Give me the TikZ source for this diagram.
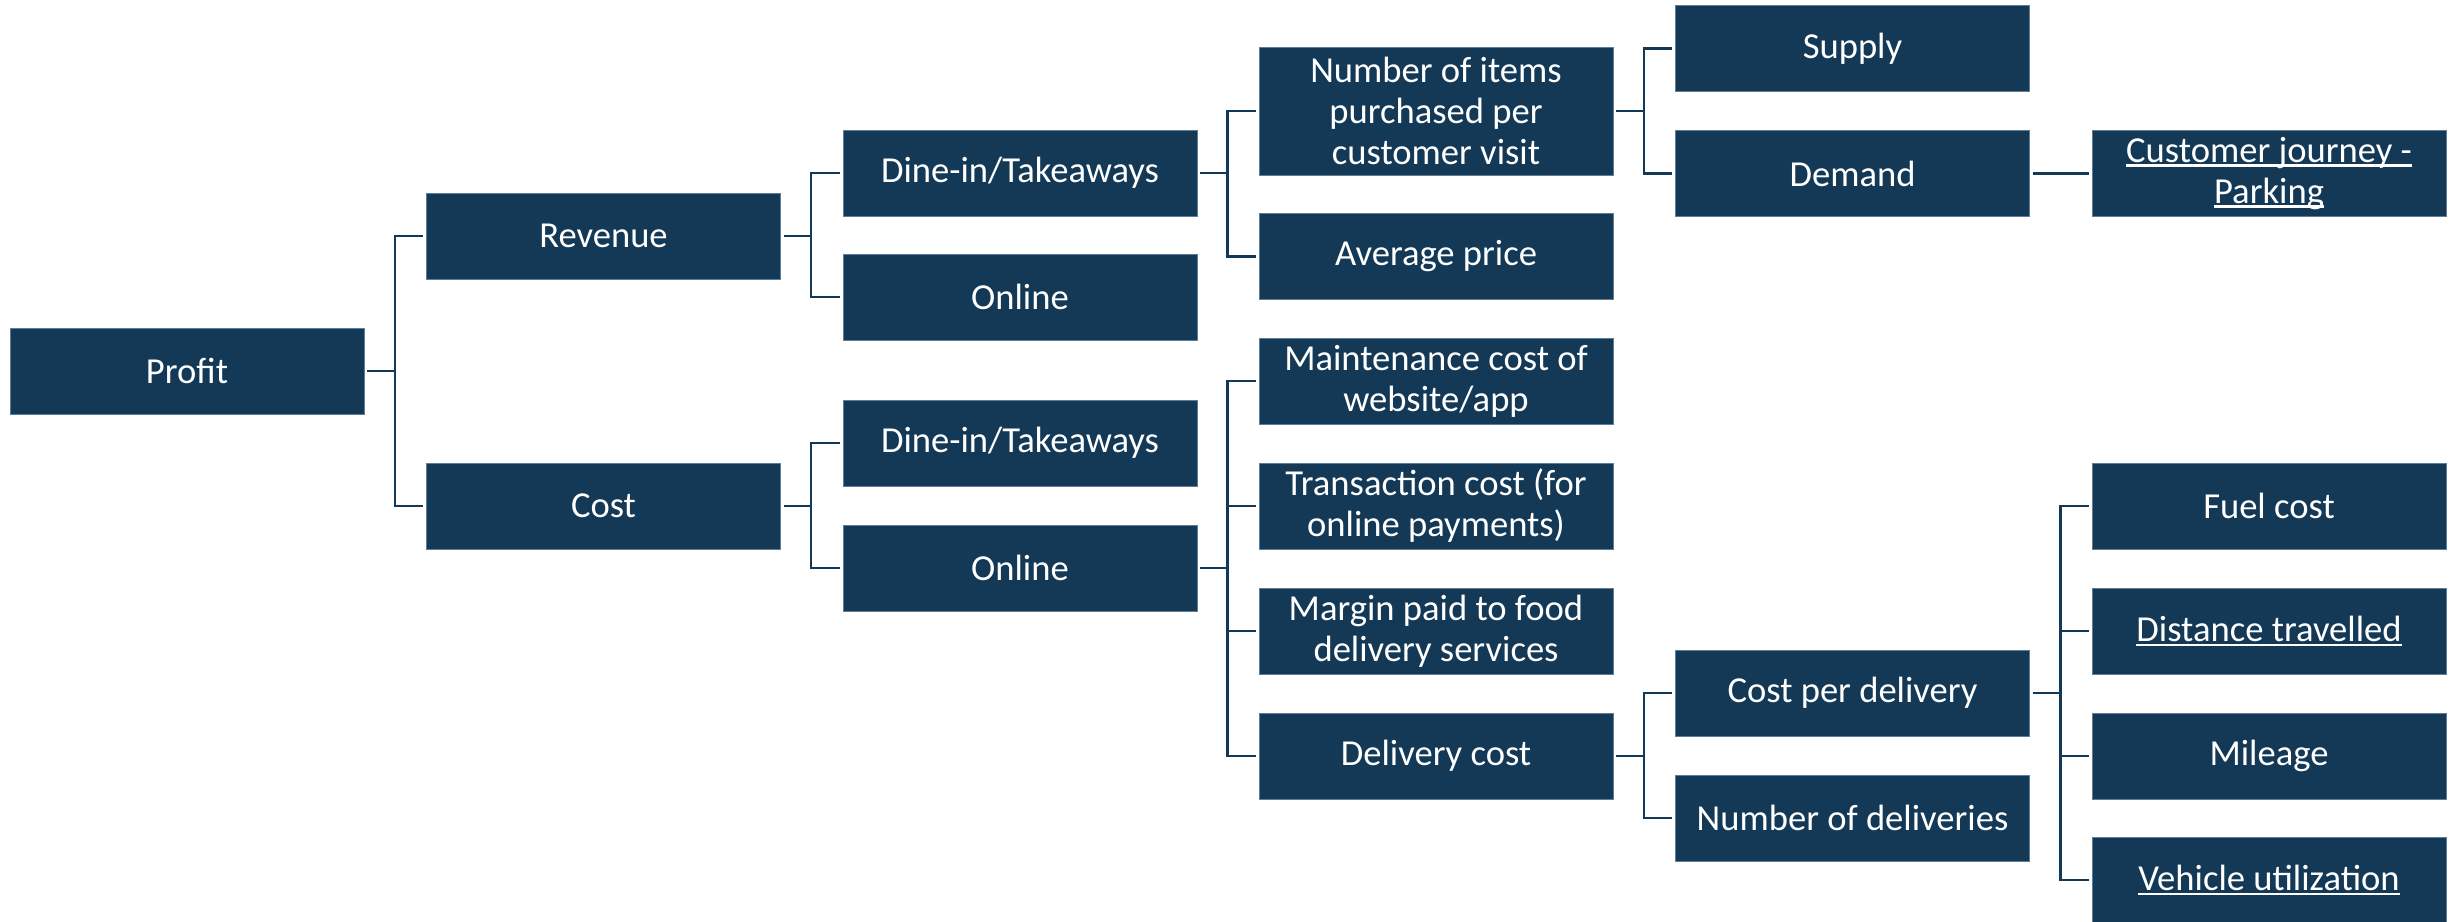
\documentclass[tikz,border=0pt]{standalone}
\usepackage{fontspec}
\setmainfont{Carlito}
\definecolor{navy}{RGB}{19,57,86}
\definecolor{edgeblue}{RGB}{95,125,150}
\newcommand\myul[1]{\setbox0=\hbox{#1}\rlap{\rule[-0.12em]{\wd0}{0.065em}}\box0}
\tikzset{
  box/.style={fill=navy, draw=edgeblue, line width=0.4pt, text=white, minimum width=177pt,
    minimum height=43pt, inner sep=0pt, align=center, font=\fontsize{18.3}{20.5}\selectfont},
  tallbox/.style={box, minimum height=64pt},
  conn/.style={draw=navy, line width=1.1pt, shorten <=1.5pt, shorten >=1.5pt}
}
\begin{document}
\begin{tikzpicture}[x=0.5pt,y=-0.5pt]
\useasboundingbox (0,0) rectangle (2455,921);
\clip (0,0) rectangle (2455,921);
% column 1
\node[box] (profit) at (187,371) {Profit};
% column 2
\node[box] (rev) at (603.5,236) {Revenue};
\node[box] (cost) at (603.5,506) {Cost};
% column 3
\node[box] (dine1) at (1020,173) {Dine-in/Takeaways};
\node[box] (online1) at (1020,297) {Online};
\node[box] (dine2) at (1020,443) {Dine-in/Takeaways};
\node[box] (online2) at (1020,568) {Online};
% column 4
\node[tallbox] (items) at (1436,111) {Number of items\\purchased per\\customer visit};
\node[box] (avg) at (1436,256.5) {Average price};
\node[box] (maint) at (1436,381) {Maintenance cost of\\website/app};
\node[box] (trans) at (1436,506) {Transaction cost (for\\online payments)};
\node[box] (margin) at (1436,631) {Margin paid to food\\delivery services};
\node[box] (deliv) at (1436,756) {Delivery cost};
% column 5
\node[box] (supply) at (1852.5,48.5) {Supply};
\node[box] (demand) at (1852.5,173.5) {Demand};
\node[box] (cpd) at (1852.5,693) {Cost per delivery};
\node[box] (nod) at (1852.5,818) {Number of deliveries};
% column 6
\node[box] (journey) at (2269,173.5) {\myul{Customer journey -}\\\myul{Parking}};
\node[box] (fuel) at (2269,506) {Fuel cost};
\node[box] (dist) at (2269,631) {\myul{Distance travelled}};
\node[box] (mileage) at (2269,756) {Mileage};
\node[box] (vehicle) at (2269,880) {\myul{Vehicle utilization}};
% bar positions
\coordinate (b1) at (395,0);
\coordinate (b2) at (811,0);
\coordinate (b3) at (1227.5,0);
\coordinate (b4) at (1644,0);
\coordinate (b5) at (2060.5,0);
% connectors
\foreach \c in {rev,cost} \draw[conn] (profit.east) -- (profit.east -| b1) |- (\c.west);
\foreach \c in {dine1,online1} \draw[conn] (rev.east) -- (rev.east -| b2) |- (\c.west);
\foreach \c in {dine2,online2} \draw[conn] (cost.east) -- (cost.east -| b2) |- (\c.west);
\foreach \c in {items,avg} \draw[conn] (dine1.east) -- (dine1.east -| b3) |- (\c.west);
\foreach \c in {maint,trans,margin,deliv} \draw[conn] (online2.east) -- (online2.east -| b3) |- (\c.west);
\foreach \c in {supply,demand} \draw[conn] (items.east) -- (items.east -| b4) |- (\c.west);
\foreach \c in {cpd,nod} \draw[conn] (deliv.east) -- (deliv.east -| b4) |- (\c.west);
\draw[conn] (demand.east) -- (journey.west);
\foreach \c in {fuel,dist,mileage,vehicle} \draw[conn] (cpd.east) -- (cpd.east -| b5) |- (\c.west);
\end{tikzpicture}
\end{document}
